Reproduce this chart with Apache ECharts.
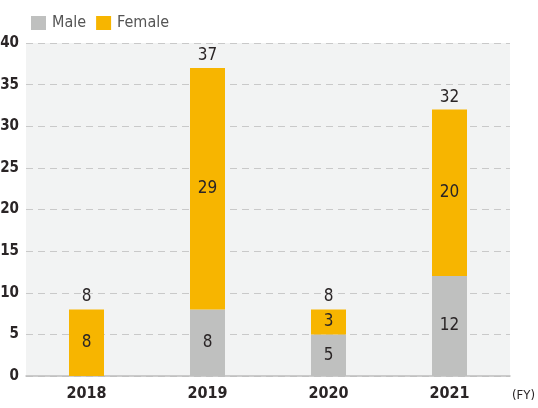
<!DOCTYPE html>
<html>
<head>
<meta charset="utf-8">
<script src="https://cdn.jsdelivr.net/npm/echarts@6/dist/echarts.min.js"></script>
<style>
  html, body { margin: 0; padding: 0; background: #fff; }
  #chart { width: 538px; height: 408px; }
</style>
</head>
<body>
<div id="chart"></div>
<script>
const years = ['2018', '2019', '2020', '2021']
const male = [0, 8, 5, 12]
const female = [8, 29, 3, 20]
const yTicks = [0, 5, 10, 15, 20, 25, 30, 35, 40]

const totals = years.map((_, i) => male[i] + female[i])
const font = '"Liberation Sans Narrow", "DejaVu Sans Condensed", Roboto, sans-serif'
const dark = '#2a2526'

const chart = echarts.init(document.getElementById('chart'))

chart.setOption({
  animation: false,
  textStyle: { fontFamily: font },
  legend: {
    left: 26,
    top: 10,
    itemWidth: 15,
    itemHeight: 14,
    itemGap: 10,
    data: ['Male', 'Female'],
    icon: 'rect',
    textStyle: { fontSize: 16, color: '#555', fontFamily: font, padding: [0, 0, 0, 1] },
  },
  grid: {
    left: 26,
    right: 28,
    top: 43,
    bottom: 32,
    outerBoundsMode: 'none',
    containLabel: false,
    show: true,
    backgroundColor: '#f2f3f3',
    borderWidth: 0,
  },
  xAxis: {
    type: 'category',
    data: years,
    axisTick: { show: false },
    axisLine: { lineStyle: { color: '#bdbdbd', width: 1.5 } },
    axisLabel: { color: dark, fontSize: 16, fontWeight: 'bold', margin: 10, fontFamily: font },
  },
  yAxis: {
    type: 'value',
    min: yTicks[0],
    max: yTicks[yTicks.length - 1],
    interval: 5,
    axisLine: { show: false },
    axisTick: { show: false },
    axisLabel: { color: dark, fontSize: 15, fontWeight: 'bold', margin: 7, fontFamily: font },
    splitLine: { lineStyle: { color: '#c9c9c9', type: [7, 5] } },
  },
  series: [
    {
      name: 'Male',
      type: 'bar',
      stack: 'total',
      barWidth: 35,
      data: male,
      itemStyle: { color: '#bfc0bf' },
      label: {
        show: true,
        position: 'inside',
        color: dark,
        fontSize: 17,
        fontFamily: font,
        formatter: p => (p.value ? p.value : ''),
      },
    },
    {
      name: 'Female',
      type: 'bar',
      stack: 'total',
      data: female,
      itemStyle: { color: '#f7b500' },
      label: {
        show: true,
        position: 'inside',
        color: dark,
        fontSize: 17,
        fontFamily: font,
        formatter: p => (p.value ? p.value : ''),
      },
    },
    {
      name: 'Total',
      type: 'bar',
      stack: 'total',
      data: totals.map(() => 0),
      itemStyle: { color: 'transparent' },
      label: {
        show: true,
        position: 'top',
        distance: 4,
        color: dark,
        fontSize: 17,
        fontFamily: font,
        formatter: p => totals[p.dataIndex],
      },
    },
  ],
  graphic: [
    {
      type: 'text',
      left: 512,
      top: 389,
      style: { text: '(FY)', fontSize: 13, fill: dark, fontFamily: font },
    },
  ],
})
</script>
</body>
</html>
